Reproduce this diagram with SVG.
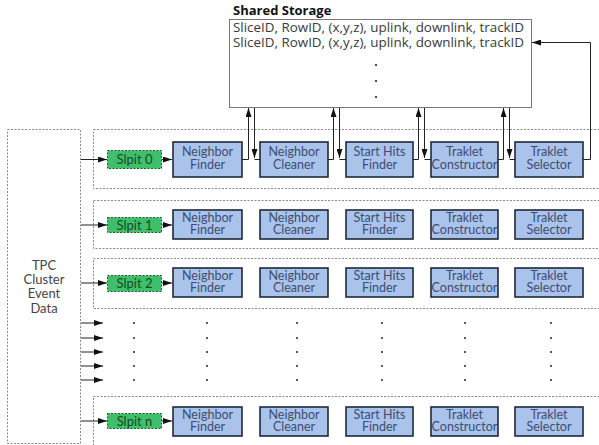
<svg xmlns="http://www.w3.org/2000/svg" width="599" height="445" viewBox="0 0 599 445">
<defs>
<marker id="ah" markerWidth="9" markerHeight="6" refX="9" refY="3" orient="auto" markerUnits="userSpaceOnUse">
<path d="M0,0 L9,3 L0,6 Z" fill="#111"/>
</marker>
<style>
.lane{fill:none;stroke:#8a8a8a;stroke-width:1;stroke-dasharray:2,1.5}
.src{fill:#fff;stroke:#8a8a8a;stroke-width:1;stroke-dasharray:2,1.5}
.box{fill:#a9c3ea;stroke:#1e2a3a;stroke-width:1.6}
.bt{font-family:Lato,"Open Sans",sans-serif;font-size:12.5px;fill:#3e4d70;text-anchor:middle}
.lt{font-family:Lato,"Open Sans",sans-serif;font-size:13px;fill:#444;text-anchor:middle}
.sp{fill:#3fbf6b;stroke:#1f5a30;stroke-width:1;stroke-dasharray:2,1.5}
.st{font-family:Lato,"Open Sans",sans-serif;font-size:13px;fill:#174a25;text-anchor:middle}
.ln{fill:none;stroke:#222;stroke-width:1}
.ar{fill:none;stroke:#222;stroke-width:1;marker-end:url(#ah)}
.tt{font-family:"Open Sans","Noto Sans",sans-serif;font-size:13.4px;fill:#3a3a3a}
.dt{fill:#222}
</style>
</defs>
<rect width="599" height="445" fill="#fff"/>

<g id="storage">
<text x="233" y="15" font-family="'Open Sans','Noto Sans',sans-serif" font-size="13" font-weight="bold" fill="#111">Shared Storage</text>
<rect x="229.5" y="19.5" width="302" height="88" fill="#fff" stroke="#777" stroke-width="1"/>
<text class="tt" x="233" y="32">SliceID, RowID, (x,y,z), uplink, downlink, trackID</text>
<text class="tt" x="233" y="47">SliceID, RowID, (x,y,z), uplink, downlink, trackID</text>
<circle class="dt" cx="376" cy="65" r="1.1"/>
<circle class="dt" cx="376" cy="81" r="1.1"/>
<circle class="dt" cx="376" cy="97" r="1.1"/>
</g>

<g id="tpc">
<rect class="src" x="7.5" y="129.5" width="73" height="314"/>
<text class="lt" x="44" y="270">TPC</text>
<text class="lt" x="44" y="284">Cluster</text>
<text class="lt" x="44" y="298">Event</text>
<text class="lt" x="44" y="313">Data</text>
</g>

<g id="lanes">
<rect class="lane" x="93.5" y="129.5" width="510" height="59"/>
<rect class="lane" x="93.5" y="200.5" width="510" height="48"/>
<rect class="lane" x="93.5" y="258.5" width="510" height="50"/>
<rect class="lane" x="93.5" y="396.5" width="510" height="50"/>
</g>

<g id="row0">
<g id="split0"><rect class="sp" x="107.5" y="150.5" width="54" height="18"/><text class="st" x="134.5" y="164">Slpit 0</text></g>
<g id="nf0"><rect class="box" x="173" y="142" width="69" height="35"/><text class="bt" x="207.5" y="156">Neighbor</text><text class="bt" x="207.5" y="168.5">Finder</text></g>
<g id="nc0"><rect class="box" x="260" y="142" width="68" height="35"/><text class="bt" x="294" y="156">Neighbor</text><text class="bt" x="294" y="168.5">Cleaner</text></g>
<g id="sh0"><rect class="box" x="346" y="142" width="67" height="35"/><text class="bt" x="379.5" y="156">Start Hits</text><text class="bt" x="379.5" y="168.5">Finder</text></g>
<g id="tc0"><rect class="box" x="431" y="142" width="67" height="35"/><text class="bt" x="464.5" y="156">Traklet</text><text class="bt" x="464.5" y="168.5">Constructor</text></g>
<g id="ts0"><rect class="box" x="515" y="142" width="68" height="35"/><text class="bt" x="549" y="156">Traklet</text><text class="bt" x="549" y="168.5">Selector</text></g>
</g>

<g id="row1">
<g id="split1"><rect class="sp" x="107.5" y="217.5" width="54" height="15"/><text class="st" x="134.5" y="229.5">Slpit 1</text></g>
<g id="nf1"><rect class="box" x="173" y="210" width="69" height="29"/><text class="bt" x="207.5" y="221.5">Neighbor</text><text class="bt" x="207.5" y="234">Finder</text></g>
<g id="nc1"><rect class="box" x="260" y="210" width="68" height="29"/><text class="bt" x="294" y="221.5">Neighbor</text><text class="bt" x="294" y="234">Cleaner</text></g>
<g id="sh1"><rect class="box" x="346" y="210" width="67" height="29"/><text class="bt" x="379.5" y="221.5">Start Hits</text><text class="bt" x="379.5" y="234">Finder</text></g>
<g id="tc1"><rect class="box" x="431" y="210" width="67" height="29"/><text class="bt" x="464.5" y="221.5">Traklet</text><text class="bt" x="464.5" y="234">Constructor</text></g>
<g id="ts1"><rect class="box" x="515" y="210" width="68" height="29"/><text class="bt" x="549" y="221.5">Traklet</text><text class="bt" x="549" y="234">Selector</text></g>
</g>

<g id="row2">
<g id="split2"><rect class="sp" x="107.5" y="275.5" width="54" height="16"/><text class="st" x="134.5" y="288">Slpit 2</text></g>
<g id="nf2"><rect class="box" x="173" y="268" width="69" height="29"/><text class="bt" x="207.5" y="279.5">Neighbor</text><text class="bt" x="207.5" y="292">Finder</text></g>
<g id="nc2"><rect class="box" x="260" y="268" width="68" height="29"/><text class="bt" x="294" y="279.5">Neighbor</text><text class="bt" x="294" y="292">Cleaner</text></g>
<g id="sh2"><rect class="box" x="346" y="268" width="67" height="29"/><text class="bt" x="379.5" y="279.5">Start Hits</text><text class="bt" x="379.5" y="292">Finder</text></g>
<g id="tc2"><rect class="box" x="431" y="268" width="67" height="29"/><text class="bt" x="464.5" y="279.5">Traklet</text><text class="bt" x="464.5" y="292">Constructor</text></g>
<g id="ts2"><rect class="box" x="515" y="268" width="68" height="29"/><text class="bt" x="549" y="279.5">Traklet</text><text class="bt" x="549" y="292">Selector</text></g>
</g>

<g id="rown">
<g id="splitn"><rect class="sp" x="107.5" y="413.5" width="54" height="15"/><text class="st" x="134.5" y="425.5">Slpit n</text></g>
<g id="nfn"><rect class="box" x="173" y="407" width="69" height="29"/><text class="bt" x="207.5" y="418.5">Neighbor</text><text class="bt" x="207.5" y="431">Finder</text></g>
<g id="ncn"><rect class="box" x="260" y="407" width="68" height="29"/><text class="bt" x="294" y="418.5">Neighbor</text><text class="bt" x="294" y="431">Cleaner</text></g>
<g id="shn"><rect class="box" x="346" y="407" width="67" height="29"/><text class="bt" x="379.5" y="418.5">Start Hits</text><text class="bt" x="379.5" y="431">Finder</text></g>
<g id="tcn"><rect class="box" x="431" y="407" width="67" height="29"/><text class="bt" x="464.5" y="418.5">Traklet</text><text class="bt" x="464.5" y="431">Constructor</text></g>
<g id="tsn"><rect class="box" x="515" y="407" width="68" height="29"/><text class="bt" x="549" y="418.5">Traklet</text><text class="bt" x="549" y="431">Selector</text></g>
</g>

<g id="dots">
<g class="dt">
<circle cx="134" cy="323" r="1"/><circle cx="207" cy="323" r="1"/><circle cx="297" cy="323" r="1"/><circle cx="382" cy="323" r="1"/><circle cx="465" cy="323" r="1"/><circle cx="551" cy="323" r="1"/>
<circle cx="134" cy="338" r="1"/><circle cx="207" cy="338" r="1"/><circle cx="297" cy="338" r="1"/><circle cx="382" cy="338" r="1"/><circle cx="465" cy="338" r="1"/><circle cx="551" cy="338" r="1"/>
<circle cx="134" cy="352" r="1"/><circle cx="207" cy="352" r="1"/><circle cx="297" cy="352" r="1"/><circle cx="382" cy="352" r="1"/><circle cx="465" cy="352" r="1"/><circle cx="551" cy="352" r="1"/>
<circle cx="134" cy="366" r="1"/><circle cx="207" cy="366" r="1"/><circle cx="297" cy="366" r="1"/><circle cx="382" cy="366" r="1"/><circle cx="465" cy="366" r="1"/><circle cx="551" cy="366" r="1"/>
<circle cx="134" cy="380" r="1"/><circle cx="207" cy="380" r="1"/><circle cx="297" cy="380" r="1"/><circle cx="382" cy="380" r="1"/><circle cx="465" cy="380" r="1"/><circle cx="551" cy="380" r="1"/>
</g>
</g>

<g id="connectors">
<line class="ar" x1="81" y1="159.5" x2="107" y2="159.5"/>
<line class="ar" x1="81" y1="225" x2="107" y2="225"/>
<line class="ar" x1="81" y1="283" x2="107" y2="283"/>
<line class="ar" x1="81" y1="421" x2="107" y2="421"/>
<line class="ar" x1="81" y1="323" x2="103" y2="323"/>
<line class="ar" x1="81" y1="338" x2="103" y2="338"/>
<line class="ar" x1="81" y1="352" x2="103" y2="352"/>
<line class="ar" x1="81" y1="366" x2="103" y2="366"/>
<line class="ar" x1="81" y1="380" x2="103" y2="380"/>
<line class="ar" x1="162" y1="159.5" x2="172" y2="159.5"/>
<line class="ar" x1="162" y1="225" x2="172" y2="225"/>
<line class="ar" x1="162" y1="283" x2="172" y2="283"/>
<line class="ar" x1="162" y1="421" x2="172" y2="421"/>
<path class="ar" d="M242,159.5 H248.5 V108"/>
<line class="ar" x1="254.5" y1="108" x2="254.5" y2="158"/>
<line class="ln" x1="254.5" y1="159.5" x2="260" y2="159.5"/>
<path class="ar" d="M328,159.5 H333.5 V108"/>
<line class="ar" x1="339.5" y1="108" x2="339.5" y2="158"/>
<line class="ln" x1="339.5" y1="159.5" x2="346" y2="159.5"/>
<path class="ar" d="M413,159.5 H418.5 V108"/>
<line class="ar" x1="424.5" y1="108" x2="424.5" y2="158"/>
<line class="ln" x1="424.5" y1="159.5" x2="431" y2="159.5"/>
<path class="ar" d="M498,159.5 H503.5 V108"/>
<line class="ar" x1="509.5" y1="108" x2="509.5" y2="158"/>
<line class="ln" x1="509.5" y1="159.5" x2="515" y2="159.5"/>
<path class="ar" d="M583,159.5 H590.5 V42.5 H532"/>
</g>
</svg>
